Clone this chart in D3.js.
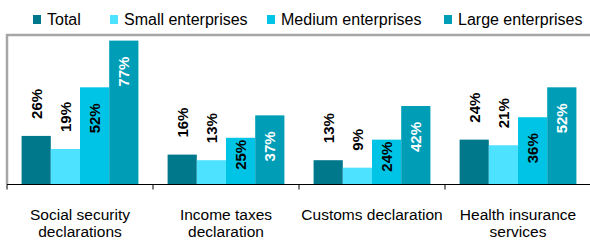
<!DOCTYPE html>
<html>
<head>
<meta charset="utf-8">
<script src="https://cdn.jsdelivr.net/npm/d3@7"></script>
<style>
  body { margin: 0; background: #fff; }
  svg { display: block; font-family: "Liberation Sans", Arial, sans-serif; }
</style>
</head>
<body>
<div id="chart"></div>
<script>
// data
const categories = [
  ["Social security", "declarations"],
  ["Income taxes", "declaration"],
  ["Customs declaration"],
  ["Health insurance", "services"]
];
const seriesNames = ["Total", "Small enterprises", "Medium enterprises", "Large enterprises"];
const total = [26, 16, 13, 24];
const small = [19, 13, 9, 21];
const medium = [52, 25, 24, 36];
const large = [77, 37, 42, 52];
const colors = ["#00788b", "#4de2ff", "#00c4e6", "#009db6"];
const labelColors = ["#000", "#000", "#000", "#fff"];

const width = 590, height = 240;
const margin = { top: 35, right: -1, bottom: 55.5, left: 7 };

const svg = d3.select("#chart").append("svg")
  .attr("width", width).attr("height", height);

const values = [total, small, medium, large];
const catKeys = categories.map((c, i) => i);

const x0 = d3.scaleBand()
  .domain(catKeys)
  .range([margin.left, width - margin.right])
  .paddingInner(0).paddingOuter(0);

// 4 bars take 0.8 of the band, 0.1 gap each side
const x1 = d3.scaleBand()
  .domain(d3.range(seriesNames.length))
  .range([x0.bandwidth() * 0.1, x0.bandwidth() * 0.9])
  .padding(0);

const y = d3.scaleLinear()
  .domain([0, 80])
  .range([height - margin.bottom, margin.top]);

// frame (grey left + top)
svg.append("path")
  .attr("d", `M${margin.left},${y(0)} V${margin.top} H${width}`)
  .attr("fill", "none")
  .attr("stroke", "#a6a6a6")
  .attr("stroke-width", 2.5);

// bars
const groups = svg.selectAll("g.cat")
  .data(catKeys)
  .enter().append("g")
  .attr("class", "cat")
  .attr("transform", (d) => `translate(${x0(d)},0)`);

groups.selectAll("rect")
  .data((c) => values.map((v, s) => ({ s: s, v: v[c] })))
  .enter().append("rect")
  .attr("x", (d) => x1(d.s))
  .attr("y", (d) => y(d.v))
  .attr("width", x1.bandwidth())
  .attr("height", (d) => y(0) - y(d.v))
  .attr("fill", (d) => colors[d.s]);

// value labels (rotated)
groups.selectAll("text.val")
  .data((c) => values.map((v, s) => ({ s: s, v: v[c] })))
  .enter().append("text")
  .attr("class", "val")
  .attr("font-size", 15)
  .attr("font-weight", "bold")
  .attr("fill", (d) => labelColors[d.s])
  .attr("dominant-baseline", "central")
  .text((d) => d.v + "%")
  .each(function (d) {
    const t = d3.select(this);
    const cx = x1(d.s) + x1.bandwidth() / 2;
    const top = y(d.v);
    const len = this.getComputedTextLength();
    if (d.s < 2) {
      // above the bar
      t.attr("text-anchor", "start")
        .attr("transform", `translate(${cx},${top - 17}) rotate(-90)`);
    } else {
      const h = y(0) - top;
      const off = Math.max(2, Math.min(16, h - len - 16));
      t.attr("text-anchor", "end")
        .attr("transform", `translate(${cx},${top + off}) rotate(-90)`);
    }
  });

// x axis
const xAxis = svg.append("g")
  .attr("transform", `translate(0,${y(0)})`);
xAxis.append("line")
  .attr("x1", margin.left).attr("x2", width)
  .attr("stroke", "#000").attr("stroke-width", 1);
xAxis.selectAll("line.tick")
  .data(catKeys.concat([catKeys.length]))
  .enter().append("line")
  .attr("class", "tick")
  .attr("x1", (d) => (d < catKeys.length ? x0(d) : x0.range()[1]))
  .attr("x2", (d) => (d < catKeys.length ? x0(d) : x0.range()[1]))
  .attr("y1", 0).attr("y2", 5)
  .attr("stroke", "#000");

// category labels
const catLabels = svg.selectAll("text.cat")
  .data(categories)
  .enter().append("text")
  .attr("class", "cat")
  .attr("text-anchor", "middle")
  .attr("font-size", 15.5)
  .attr("fill", "#000")
  .attr("transform", (d, i) => `translate(${x0(i) + x0.bandwidth() / 2},219.5)`);
catLabels.selectAll("tspan")
  .data((d) => d)
  .enter().append("tspan")
  .attr("x", 0)
  .attr("y", (d, i) => i * 17.5)
  .text((d) => d);

// legend
const legendX = [33, 110, 267, 444];
const legend = svg.selectAll("g.legend")
  .data(seriesNames)
  .enter().append("g")
  .attr("class", "legend")
  .attr("transform", (d, i) => `translate(${legendX[i]},15)`);
legend.append("rect")
  .attr("width", 8).attr("height", 9)
  .attr("fill", (d, i) => colors[i]);
legend.append("text")
  .attr("x", 14).attr("y", 10)
  .attr("font-size", 16)
  .attr("fill", "#000")
  .text((d) => d);
</script>
</body>
</html>
